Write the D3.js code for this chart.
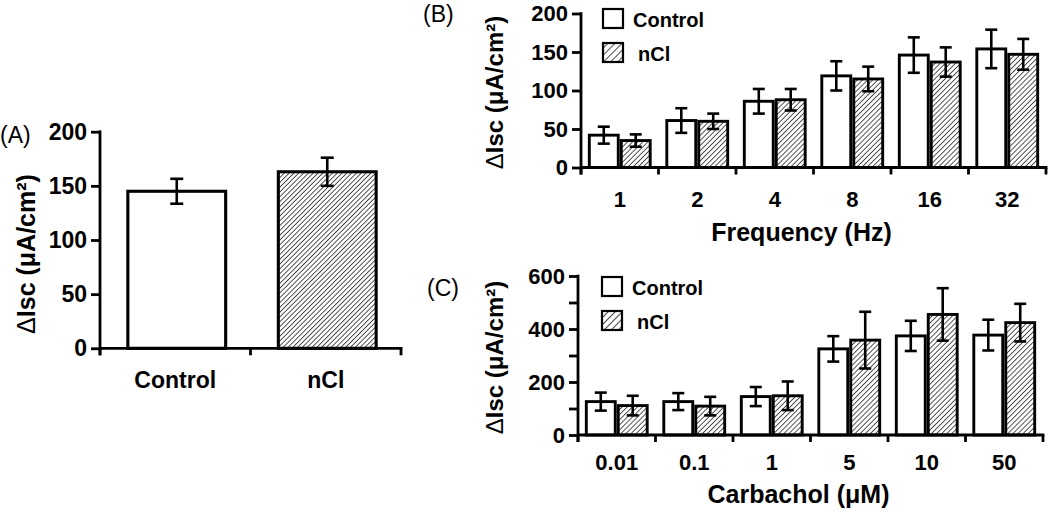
<!DOCTYPE html>
<html>
<head>
<meta charset="utf-8">
<script src="https://cdn.jsdelivr.net/npm/d3@7"></script>
<style>
  html, body { margin: 0; padding: 0; background: #fff; }
  svg { display: block; }
  text { font-family: "Liberation Sans", Arial, Helvetica, sans-serif; fill: #000; }
</style>
</head>
<body>
<svg id="chart" width="1050" height="513"></svg>
<script>
// ---------------- data ----------------
const seriesNames = ["Control", "nCl"];

const panelACategories = ["Control", "nCl"];
const panelAValues = [145, 163];
const panelAErrors = [11.5, 13];
const panelAYTicks = [0, 50, 100, 150, 200];

const freqCategories = ["1", "2", "4", "8", "16", "32"];
const freqControl = [42, 61, 86, 119, 146, 154];
const freqControlErr = [11, 16, 16, 19, 23, 25];
const freqNCl = [35, 60, 88, 115, 137, 147];
const freqNClErr = [8, 10, 14, 16, 19, 20];
const freqYTicks = [0, 50, 100, 150, 200];

const carbCategories = ["0.01", "0.1", "1", "5", "10", "50"];
const carbControl = [126, 126, 145, 325, 374, 377];
const carbControlErr = [34, 32, 36, 48, 57, 58];
const carbNCl = [111, 109, 148, 358, 455, 424];
const carbNClErr = [37, 35, 54, 107, 99, 71];
const carbYTicks = [0, 100, 200, 300, 400, 500, 600];
const carbYLabels = [0, 200, 400, 600];

// ---------------- setup ----------------
const svg = d3.select("#chart");
const defs = svg.append("defs");

function hatch(id, spacing, width) {
  const p = defs.append("pattern")
    .attr("id", id)
    .attr("patternUnits", "userSpaceOnUse")
    .attr("width", spacing).attr("height", spacing)
    .attr("patternTransform", "rotate(45)");
  p.append("rect").attr("width", spacing).attr("height", spacing).attr("fill", "#fff");
  p.append("line").attr("x1", 0).attr("y1", 0).attr("x2", 0).attr("y2", spacing)
    .attr("stroke", "#1a1a1a").attr("stroke-width", width);
}
hatch("hatchA", 3.4, 1.5);
hatch("hatchB", 3.6, 1.5);
hatch("hatchLeg", 5, 1.6);

const fills = { "Control": "#fff", "nCl": "url(#hatchB)" };
const AX = 2.8;

function yAxis(g, y, ticks, labels, x0, fs) {
  const ax = d3.axisLeft(y).tickValues(ticks).tickSizeInner(9).tickSizeOuter(0).tickPadding(4)
    .tickFormat(d => labels.includes(d) ? d : "");
  const gg = g.append("g").attr("transform", `translate(${x0},0)`).call(ax);
  gg.select(".domain").remove();
  gg.selectAll(".tick line").attr("stroke", "#000").attr("stroke-width", AX);
  gg.selectAll(".tick text").style("font-size", fs + "px").style("font-weight", "bold")
    .attr("fill", "#000");
  const r = y.range();
  g.append("line").attr("x1", x0).attr("x2", x0).attr("y1", r[1] - 1.3).attr("y2", r[0] + 7)
    .attr("stroke", "#000").attr("stroke-width", AX);
}

function xAxis(g, x, y0, fs, labelY) {
  const r = x.range();
  g.append("line").attr("x1", r[0]).attr("x2", r[1] + 1.4).attr("y1", y0).attr("y2", y0)
    .attr("stroke", "#000").attr("stroke-width", AX);
  const bounds = d3.range(x.domain().length + 1).map(i => r[0] + i * x.step());
  g.selectAll(null).data(bounds).join("line")
    .attr("x1", d => d).attr("x2", d => d).attr("y1", y0).attr("y2", y0 + 7)
    .attr("stroke", "#000").attr("stroke-width", AX);
  g.selectAll(null).data(x.domain()).join("text")
    .attr("x", d => x(d) + x.bandwidth() / 2).attr("y", labelY)
    .attr("text-anchor", "middle").style("font-size", fs + "px").style("font-weight", "bold")
    .text(d => d);
}

function yTitleText(g, cx, cy, fs) {
  g.append("text").attr("transform", `translate(${cx},${cy}) rotate(-90)`)
    .attr("text-anchor", "middle").style("font-size", fs + "px").style("font-weight", "bold")
    .call(t => {
      t.append("tspan").style("font-weight", "normal").text("\u0394");
      t.append("tspan").text("Isc (\u03bcA/cm\u00b2)");
    });
}

function errBar(g, cx, yTop, yBot, cap) {
  g.append("line").attr("x1", cx).attr("x2", cx).attr("y1", yTop).attr("y2", yBot)
    .attr("stroke", "#000").attr("stroke-width", 2.6);
  [yTop, yBot].forEach(yy => g.append("line").attr("x1", cx - cap / 2).attr("x2", cx + cap / 2)
    .attr("y1", yy).attr("y2", yy).attr("stroke", "#000").attr("stroke-width", 2.6));
}

// ---------------- Panel A ----------------
{
  const g = svg.append("g");
  const y = d3.scaleLinear().domain([0, 200]).range([348.3, 131.7]);
  const x = d3.scaleBand().domain(panelACategories).range([100, 401])
    .paddingInner(0.35).paddingOuter(0.175);
  panelACategories.forEach((c, i) => {
    g.append("rect").attr("x", x(c) + 1.5).attr("y", y(panelAValues[i]))
      .attr("width", x.bandwidth()).attr("height", y(0) - y(panelAValues[i]))
      .attr("fill", i === 0 ? "#fff" : "url(#hatchA)")
      .attr("stroke", "#000").attr("stroke-width", 3.1);
    errBar(g, x(c) + 1.5 + x.bandwidth() / 2, y(panelAValues[i] + panelAErrors[i]),
      y(panelAValues[i] - panelAErrors[i]), 13);
  });
  yAxis(g, y, panelAYTicks, panelAYTicks, 100, 23);
  xAxis(g, x, y(0), 23, 388);
  yTitleText(g, 35, 254, 25);
  g.append("text").attr("x", 0).attr("y", 143).style("font-size", "23px").text("(A)");
}

// ---------------- grouped panels ----------------
function grouped(cfg) {
  const g = svg.append("g");
  const y = d3.scaleLinear().domain(cfg.yDomain).range(cfg.yRange);
  const x = d3.scaleBand().domain(cfg.cats).range(cfg.xRange).padding(0);
  const xs = d3.scaleBand().domain(seriesNames).range([0, x.step()])
    .paddingInner(0.094).paddingOuter(0.26);
  const series = [
    { name: "Control", vals: cfg.control, errs: cfg.controlErr },
    { name: "nCl", vals: cfg.ncl, errs: cfg.nclErr }
  ];
  series.forEach(s => {
    cfg.cats.forEach((c, i) => {
      const bx = x(c) + xs(s.name);
      g.append("rect").attr("x", bx).attr("y", y(s.vals[i]))
        .attr("width", xs.bandwidth()).attr("height", y(0) - y(s.vals[i]))
        .attr("fill", fills[s.name]).attr("stroke", "#000").attr("stroke-width", 2.9);
    });
  });
  series.forEach(s => {
    cfg.cats.forEach((c, i) => {
      const cx = x(c) + xs(s.name) + xs.bandwidth() / 2;
      errBar(g, cx, y(s.vals[i] + s.errs[i]), y(s.vals[i] - s.errs[i]), 12);
    });
  });
  yAxis(g, y, cfg.yTicks, cfg.yLabels, cfg.xRange[0], 22);
  xAxis(g, x, y(0), 22, cfg.tickLabelY);
  yTitleText(g, cfg.yTitleX, (cfg.yRange[0] + cfg.yRange[1]) / 2 + 2, 24);
  g.append("text").attr("x", (cfg.xRange[0] + cfg.xRange[1]) / 2 - 12).attr("y", cfg.titleY)
    .attr("text-anchor", "middle").style("font-size", "25px").style("font-weight", "bold")
    .text(cfg.xTitle);
  g.append("text").attr("x", cfg.panelX).attr("y", cfg.panelY).style("font-size", "23px").text(cfg.panel);
  const L = cfg.legend;
  seriesNames.forEach((n, i) => {
    g.append("rect").attr("x", L.x).attr("y", L.y + i * 34).attr("width", 20).attr("height", 19)
      .attr("fill", i === 0 ? "#fff" : "url(#hatchLeg)").attr("stroke", "#000").attr("stroke-width", 2.2);
    g.append("text").attr("x", L.x + (i === 0 ? 30 : 35)).attr("y", L.y + i * 34 + 18)
      .style("font-size", "20px").style("font-weight", "bold").text(n);
  });
}

grouped({
  cats: freqCategories, control: freqControl, controlErr: freqControlErr,
  ncl: freqNCl, nclErr: freqNClErr,
  yDomain: [0, 200], yRange: [167.5, 13.5], xRange: [581, 1046],
  yTicks: freqYTicks, yLabels: freqYTicks, tickLabelY: 207, titleY: 241,
  xTitle: "Frequency (Hz)", yTitleX: 503, panel: "(B)", panelX: 423, panelY: 22,
  legend: { x: 603, y: 9 }
});

grouped({
  cats: carbCategories, control: carbControl, controlErr: carbControlErr,
  ncl: carbNCl, nclErr: carbNClErr,
  yDomain: [0, 600], yRange: [435, 276], xRange: [578, 1043],
  yTicks: carbYTicks, yLabels: carbYLabels, tickLabelY: 470, titleY: 503,
  xTitle: "Carbachol (\u03bcM)", yTitleX: 503, panel: "(C)", panelX: 427, panelY: 296,
  legend: { x: 602, y: 277 }
});
</script>
</body>
</html>
